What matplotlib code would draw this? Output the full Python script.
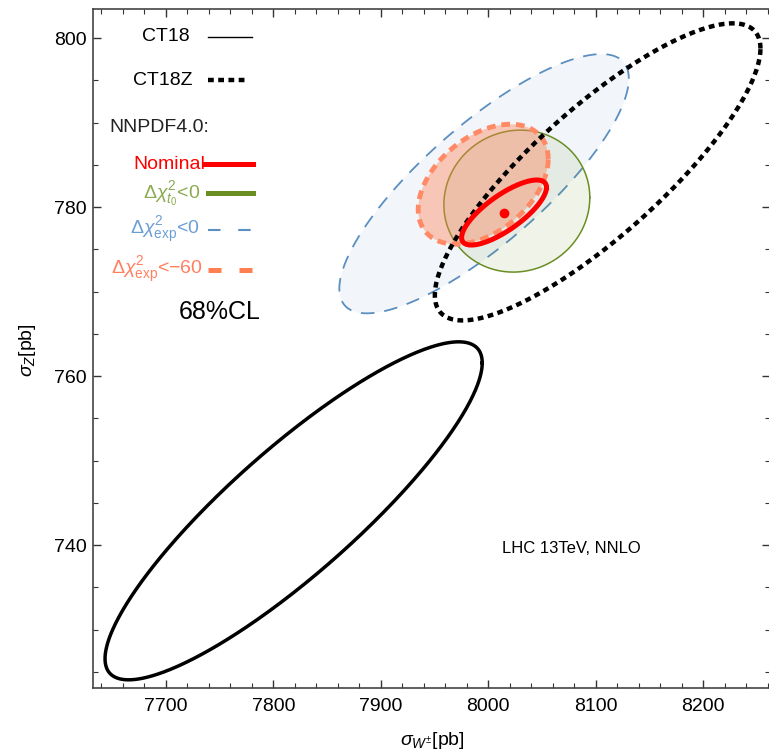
import numpy as np
import matplotlib
matplotlib.use('Agg')
import matplotlib.pyplot as plt
from matplotlib.ticker import MultipleLocator

# 68% CL ellipses: centre, half-widths and correlation for each PDF set
names = ['CT18', 'CT18Z', 'Nominal', 'dchi2_t0<0', 'dchi2_exp<0', 'dchi2_exp<-60']
center_w = [7818.8, 8101.7, 8014.6, 8026.5, 7996.0, 7995.2]
center_z = [744.05, 784.16, 779.35, 780.7, 782.76, 782.7]
err_w = [175.5, 151.5, 39.5, 67.9, 134.7, 60.5]
err_z = [20.0, 17.58, 3.85, 8.4, 15.34, 7.1]
corr = [0.875, 0.83, 0.77, 0.05, 0.81, 0.42]

x_ticks = [7700, 7800, 7900, 8000, 8100, 8200]
y_ticks = [740, 760, 780, 800]


def ellipse(i, n=500):
    t = np.linspace(0, 2 * np.pi, n)
    x = center_w[i] + err_w[i] * np.cos(t)
    y = center_z[i] + err_z[i] * (corr[i] * np.cos(t) + np.sqrt(1 - corr[i] ** 2) * np.sin(t))
    return x, y


def main():
    plt.rcParams['font.family'] = ['Liberation Sans', 'DejaVu Sans']
    plt.rcParams['mathtext.fontset'] = 'custom'
    plt.rcParams['mathtext.rm'] = 'Liberation Sans'
    plt.rcParams['mathtext.it'] = 'Liberation Sans:italic'

    fig = plt.figure(figsize=(7.69, 7.53), dpi=100)
    ax = fig.add_axes([0.1205, 0.0863, 0.8807, 0.9017])

    blue = '#5b8fc0'
    green = '#6b8e23'
    orange = '#ff7f50'

    # blue dashed, filled
    x, y = ellipse(4)
    ax.fill(x, y, color=blue, alpha=0.08, lw=0, zorder=1)
    ax.plot(x, y, color=blue, lw=1.3, ls=(0, (7.5, 5.5)), zorder=2)

    # green circle
    x, y = ellipse(3)
    ax.fill(x, y, color=green, alpha=0.1, lw=0, zorder=3)
    ax.plot(x, y, color=green, lw=1.1, zorder=4)

    # orange dashed, filled
    x, y = ellipse(5)
    ax.fill(x, y, color=orange, alpha=0.4, lw=0, zorder=5)
    ax.plot(x, y, color='#ff8a65', lw=3.5, ls=(0, (1.8, 1.2)), zorder=6)

    # CT18Z dotted
    x, y = ellipse(1)
    ax.plot(x, y, color='black', lw=3.2, ls=(0, (1.3, 1.0)), zorder=7)

    # nominal
    x, y = ellipse(2)
    ax.plot(x, y, color='red', lw=3.6, zorder=8)
    ax.plot(center_w[2], center_z[2], 'o', color='red', ms=6, zorder=9)

    # CT18
    x, y = ellipse(0)
    ax.plot(x, y, color='black', lw=2.5, zorder=8)

    ax.set_xlim(7631.8, 8262)
    ax.set_ylim(723.08, 803.43)
    ax.set_xticks(x_ticks)
    ax.set_yticks(y_ticks)
    ax.xaxis.set_minor_locator(MultipleLocator(20))
    ax.yaxis.set_minor_locator(MultipleLocator(5))
    ax.tick_params(which='both', direction='in', top=True, right=True, labelsize=14, color='#333333')
    ax.tick_params(which='major', length=6, width=1)
    ax.tick_params(which='minor', length=3.5, width=0.8)
    ax.tick_params(axis='x', pad=7)
    ax.tick_params(axis='y', pad=4)
    for s in ax.spines.values():
        s.set_color('#444444')
        s.set_linewidth(1.2)

    ax.set_xlabel(r'$\sigma_{W^{\pm}}$[pb]', fontsize=14)
    ax.set_ylabel(r'$\sigma_{Z}$[pb]', fontsize=14)
    ax.xaxis.set_label_coords(0.501, -0.062)
    ax.yaxis.set_label_coords(-0.08, 0.498)

    # legend built by hand
    tr = ax.transAxes
    fs = 14
    ax.text(0.1437, 0.9592, 'CT18', transform=tr, ha='right', va='center', fontsize=fs)
    ax.plot([0.1702, 0.2355], [0.9592, 0.9592], transform=tr, color='black', lw=1)
    ax.text(0.1481, 0.8954, 'CT18Z', transform=tr, ha='right', va='center', fontsize=fs)
    ax.plot([0.1702, 0.2279], [0.8954, 0.8954], transform=tr, color='black', lw=3.2,
            ls=(0, (1.3, 1.0)))
    ax.text(0.0241, 0.8262, 'NNPDF4.0:', transform=tr, ha='left', va='center', fontsize=fs,
            color='#222222')
    ax.text(0.1658, 0.7717, 'Nominal', transform=tr, ha='right', va='center', fontsize=fs,
            color='red')
    ax.plot([0.1658, 0.2367], [0.7717, 0.7717], transform=tr, color='red', lw=3.6)
    ax.text(0.1584, 0.729, r'$\Delta\chi^2_{t_0}$<0', transform=tr, ha='right', va='center',
            fontsize=fs, color='#8cab50')
    ax.plot([0.1702, 0.2367], [0.729, 0.729], transform=tr, color=green, lw=3.6)
    ax.text(0.1584, 0.6745, r'$\Delta\chi^2_{\mathrm{exp}}$<0', transform=tr, ha='right',
            va='center', fontsize=fs, color='#6c9fd6')
    ax.plot([0.1702, 0.2367], [0.6745, 0.6745], transform=tr, color=blue, lw=1.5,
            ls=(0, (6, 8.5)))
    ax.text(0.1629, 0.6156, r'$\Delta\chi^2_{\mathrm{exp}}$<−60', transform=tr, ha='right',
            va='center', fontsize=fs, color='#ff7f5f')
    ax.plot([0.1702, 0.2367], [0.6156, 0.6156], transform=tr, color=orange, lw=3.6,
            ls=(0, (2.6, 3.6)))
    ax.text(0.1274, 0.5538, '68%CL', transform=tr, ha='left', va='center', fontsize=18)

    ax.text(0.6044, 0.2062, 'LHC 13TeV, NNLO', transform=tr, ha='left', va='center', fontsize=12)

    fig.savefig('out.png', dpi=100)


if __name__ == '__main__':
    main()
